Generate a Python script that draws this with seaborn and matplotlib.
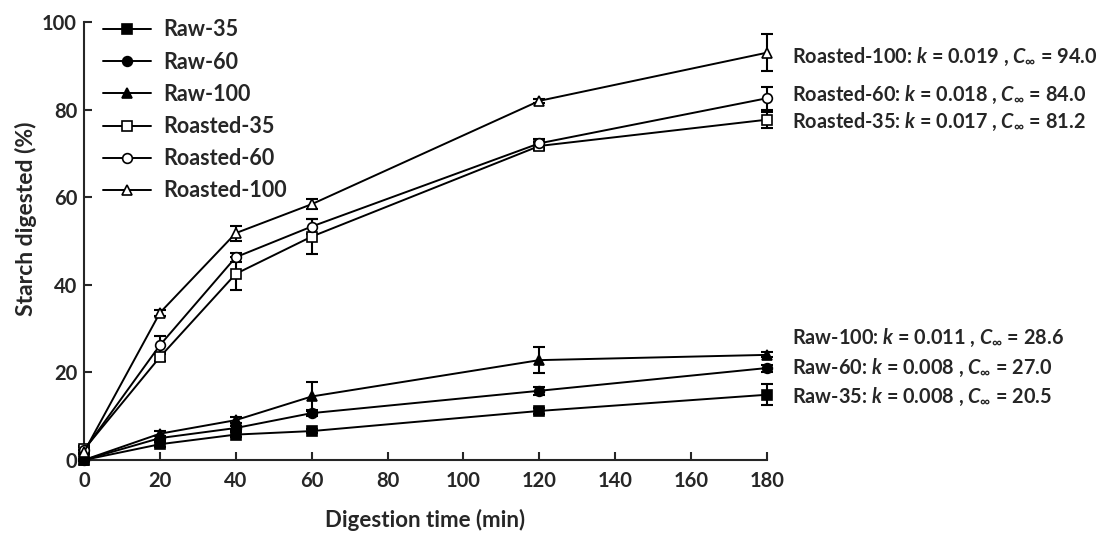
import matplotlib
matplotlib.use("Agg")
import matplotlib.pyplot as plt
import seaborn as sns
import pandas as pd
import numpy as np

sns.set_theme(style="ticks")
plt.rcParams['font.family'] = ['Lato', 'DejaVu Sans']
plt.rcParams['font.weight'] = 'bold'
plt.rcParams['mathtext.fontset'] = 'custom'
plt.rcParams['mathtext.it'] = 'Lato:italic:bold'
plt.rcParams['mathtext.rm'] = 'Lato:bold'

time = [0, 20, 40, 60, 120, 180]
series_names = ["Raw-35", "Raw-60", "Raw-100", "Roasted-35", "Roasted-60", "Roasted-100"]
raw35 = [0.0, 3.6, 5.8, 6.6, 11.2, 14.9]
raw60 = [0.0, 5.0, 7.3, 10.7, 15.8, 21.0]
raw100 = [0.0, 6.0, 9.1, 14.5, 22.8, 24.0]
roasted35 = [2.4, 23.5, 42.5, 51.0, 71.7, 77.7]
roasted60 = [2.2, 26.2, 46.3, 53.3, 72.3, 82.6]
roasted100 = [1.8, 33.6, 51.8, 58.4, 82.0, 93.0]
err_raw35 = [0.3, 0.6, 0.6, 0.5, 0.7, 2.4]
err_raw60 = [0.3, 0.5, 0.5, 0.6, 0.9, 0.8]
err_raw100 = [0.3, 0.6, 0.7, 3.4, 3.0, 0.6]
err_roasted35 = [0.8, 1.0, 3.8, 4.0, 1.0, 1.8]
err_roasted60 = [0.8, 2.0, 1.0, 1.8, 1.0, 2.6]
err_roasted100 = [0.5, 0.7, 1.7, 1.2, 0.5, 4.2]
annot_labels = [
    "Raw-35: $k$ = 0.008 , $C_{\\infty}$ = 20.5",
    "Raw-60: $k$ = 0.008 , $C_{\\infty}$ = 27.0",
    "Raw-100: $k$ = 0.011 , $C_{\\infty}$ = 28.6",
    "Roasted-35: $k$ = 0.017 , $C_{\\infty}$ = 81.2",
    "Roasted-60: $k$ = 0.018 , $C_{\\infty}$ = 84.0",
    "Roasted-100: $k$ = 0.019 , $C_{\\infty}$ = 94.0",
]
annot_y = [14.4, 21.0, 27.9, 77.2, 83.3, 92.0]

values = [raw35, raw60, raw100, roasted35, roasted60, roasted100]
errors = [err_raw35, err_raw60, err_raw100, err_roasted35, err_roasted60, err_roasted100]
markers = ["s", "o", "^", "s", "o", "^"]
faces = ["black", "black", "black", "white", "white", "white"]

fig = plt.figure(figsize=(11.08, 5.34), dpi=100)
ax = fig.add_axes([0.0758, 0.1386, 0.6165, 0.8202])

for name, vals, errs, m, fc in zip(series_names, values, errors, markers, faces):
    df = pd.DataFrame({"time": time, "value": vals})
    ax.errorbar(time, vals, yerr=errs, fmt="none", ecolor="black", elinewidth=1.5,
                capsize=4, capthick=1.5, clip_on=False, zorder=2)
    sns.lineplot(data=df, x="time", y="value", ax=ax, color="black", linewidth=1.4,
                 marker=m, markersize=7, markerfacecolor=fc, markeredgecolor="black",
                 markeredgewidth=1.2, label=name, clip_on=False, zorder=3)

for txt, y in zip(annot_labels, annot_y):
    ax.text(186.5, y, txt, fontsize=14.3, fontweight="bold", va="center", ha="left",
            clip_on=False)

ax.set_xlim(0, 180)
ax.set_ylim(0, 100)
ax.set_xticks(np.arange(0, 181, 20))
ax.set_yticks(np.arange(0, 101, 20))
ax.tick_params(direction="in", length=6, width=1.5, labelsize=14.5)
ax.tick_params(axis="x", pad=8)
ax.tick_params(axis="y", pad=5)
for lab in ax.get_xticklabels() + ax.get_yticklabels():
    lab.set_fontweight("bold")
sns.despine(ax=ax)
ax.spines["left"].set_linewidth(1.5)
ax.spines["bottom"].set_linewidth(1.5)
ax.set_xlabel("Digestion time (min)", fontsize=16, fontweight="bold", labelpad=13)
ax.set_ylabel("Starch digested (%)", fontsize=16.5, fontweight="bold", labelpad=4)
ax.yaxis.label.set_y(0.55)

leg = ax.legend(loc="upper left", bbox_to_anchor=(0.0, 1.05), frameon=False,
                fontsize=15.5, handlelength=2.2, labelspacing=0.52, handletextpad=0.6)
for t in leg.get_texts():
    t.set_fontweight("bold")

fig.savefig("out.png", dpi=100)
